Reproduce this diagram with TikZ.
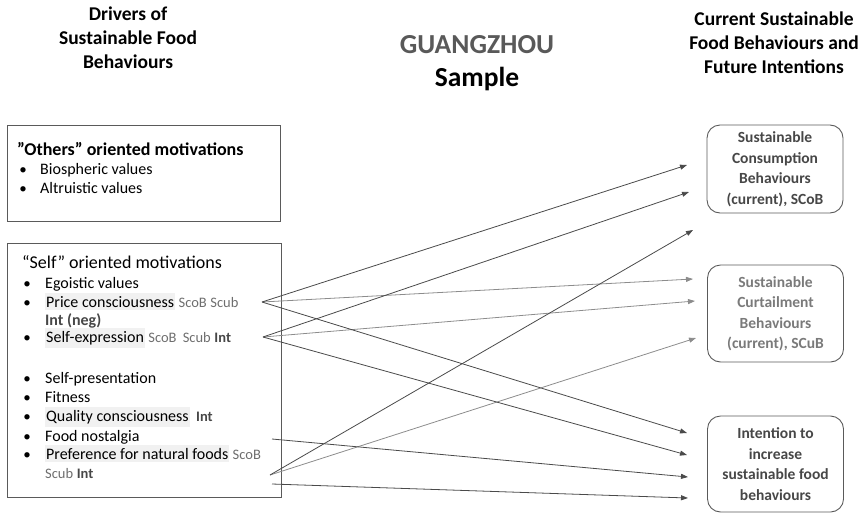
\documentclass[tikz,border=0pt]{standalone}
\usepackage{fontspec}
\setmainfont{Carlito}
\usetikzlibrary{arrows.meta,positioning}
\definecolor{linedark}{HTML}{4A4A4A}
\definecolor{linelight}{HTML}{8C8C8C}
\definecolor{boxline}{HTML}{5A5A5A}
\definecolor{tagcol}{HTML}{6E6E6E}
\definecolor{hlcol}{HTML}{F1F1F1}
\definecolor{outdark}{HTML}{474747}
\definecolor{outlight}{HTML}{7A7A7A}
\newcommand{\tagb}[1]{{\fontsize{14.5}{17}\selectfont\color{tagcol}#1}}
\newcommand{\intb}[1]{{\fontsize{14.5}{17}\selectfont\bfseries\color{outdark}#1}}

\begin{document}
\begin{tikzpicture}[x=1pt, y=-1pt,
  head/.style={font=\fontsize{19.5}{24}\selectfont\bfseries, anchor=base, inner sep=0},
  item/.style={anchor=base west, inner sep=0, font=\fontsize{16}{19}\selectfont},
  hl/.style={item, fill=hlcol, inner ysep=3pt, inner xsep=1pt},
  bul/.style={anchor=base, inner sep=0, font=\fontsize{15}{18}\selectfont},
  frame/.style={draw=boxline, line width=0.9pt, inner sep=0},
  outcome/.style={draw=boxline, line width=0.9pt, rounded corners=13pt, minimum width=136,
    align=center, font=\fontsize{15.5}{20.5}\selectfont\bfseries},
  dk/.style={draw=linedark, line width=0.8pt, -{Triangle[length=7pt,width=5pt]}},
  lt/.style={draw=linelight, line width=0.8pt, -{Triangle[length=7pt,width=5pt]}},
]
\useasboundingbox (0,0) rectangle (866,514);

% column headings
\foreach \t [count=\i] in {Drivers of, Sustainable Food, Behaviours}
  \node[head] (drv\i) at (128, -4+24*\i) {\t};
\foreach \t [count=\i] in {Current Sustainable, Food Behaviours and, Future Intentions}
  \node[head] (cur\i) at (774, 1+24*\i) {\t};
\node[head, font=\fontsize{27.5}{32}\selectfont\bfseries, text=black!65] (city) at (477,53) {GUANGZHOU};
\node[head, font=\fontsize{27.5}{32}\selectfont\bfseries] (sample) at (477,86) {Sample};

% "others" box
\node[frame, minimum width=273, minimum height=96] (others) at (143.5,173) {};
\node[item, font=\fontsize{18}{21}\selectfont\bfseries] (othtitle) at (17,155) {”Others” oriented motivations};
\foreach \y [count=\i] in {174,193}
  \node[bul] (ob\i) at (23,\y) {•};
\node[item] (bio) at (40,174) {Biospheric values};
\node[item] (alt) at (40,193) {Altruistic values};

% "self" box
\node[frame, minimum width=274, minimum height=254] (self) at (144,370) {};
\node[item, font=\fontsize{18}{21}\selectfont] (selftitle) at (22,268) {“Self” oriented motivations};
\foreach \y [count=\i] in {288,307,342,383,402,421,441,459}
  \node[bul] (sb\i) at (27,\y) {•};
\node[item] (ego) at (45,288) {Egoistic values};
\node[hl] (price) at (45,307) {Price consciousness};
\node[item] (pricetag) at ([xshift=3pt]price.base east) {\tagb{ScoB} \tagb{Scub}};
\node[item, font=\fontsize{16}{19}\selectfont\bfseries, text=outdark] (neg) at (45,325) {Int (neg)};
\node[hl] (selfexp) at (45,342) {Self-expression};
\node[item] (selftag) at ([xshift=3pt]selfexp.base east) {\tagb{ScoB}\, \tagb{Scub} \intb{Int}};
\node[item] (pres) at (45,383) {Self-presentation};
\node[item] (fit) at (45,402) {Fitness};
\node[hl] (qual) at (45,421) {Quality consciousness};
\node[item] (qualtag) at ([xshift=6pt]qual.base east) {\intb{Int}};
\node[item] (nost) at (45,441) {Food nostalgia};
\node[hl] (pref) at (45,459) {Preference for natural foods};
\node[item] (preftag) at ([xshift=3pt]pref.base east) {\tagb{ScoB}};
\node[item] (pref2) at (45,478) {\tagb{Scub} \intb{Int}};

% outcome boxes
\node[outcome, minimum height=88, text=outdark] (scob) at (775,169)
  {Sustainable\\Consumption\\Behaviours\\(current), SCoB};
\node[outcome, minimum height=97, text=outlight] (scub) at (775.5,313.5)
  {Sustainable\\Curtailment\\Behaviours\\(current), SCuB};
\node[outcome, minimum height=96, text=outdark] (intent) at (775.5,464)
  {Intention to\\increase\\sustainable food\\behaviours};

% arrow ends
\coordinate (pc) at (262,302);
\coordinate (se) at (263,337);
\coordinate (fn) at (272,439);
\coordinate (pf) at (270,475);
\coordinate (pf2) at (272,484);
\foreach \n/\p in {c1/{687,165}, c2/{689,192}, c3/{693,230}, u1/{693,279}, u2/{695,301}, u3/{696,338},
                   i1/{687,433}, i2/{687,455}, i3/{688,477}, i4/{688,498}}
  \coordinate (\n) at (\p);

% paths
\foreach \s/\e/\st in {pc/u1/lt, se/u2/lt, pf/u3/lt, pc/c1/dk, se/c2/dk, pf/c3/dk,
                       pc/i1/dk, se/i2/dk, fn/i3/dk, pf2/i4/dk}
  \draw[\st] (\s) -- (\e);
\end{tikzpicture}
\end{document}
